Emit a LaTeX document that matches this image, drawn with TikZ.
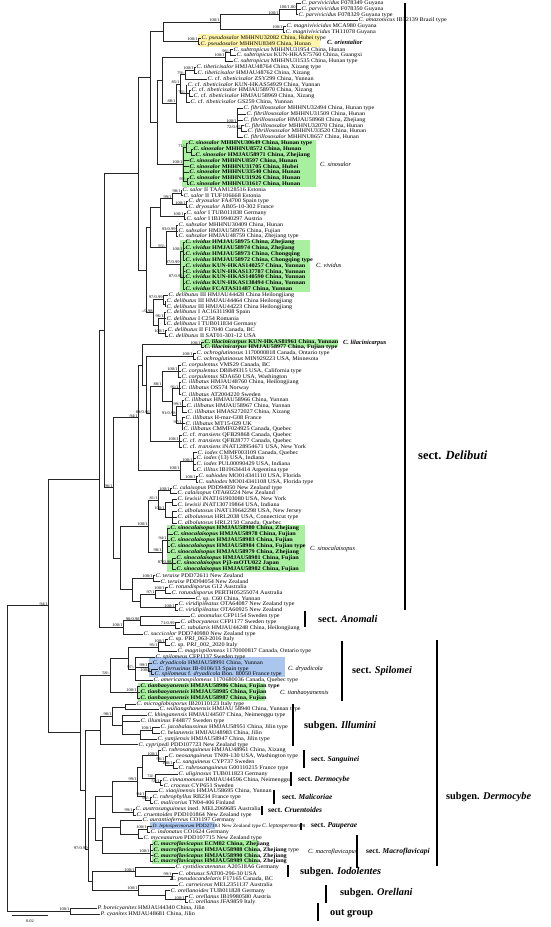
\documentclass[tikz,border=0pt]{standalone}
\usepackage{fontspec}
\setmainfont{Liberation Serif}
\newfontfamily\lfam[FakeStretch=1.1]{Liberation Serif}
\usetikzlibrary{calc}
\definecolor{hlg}{RGB}{168,240,160}
\definecolor{hly}{RGB}{255,244,170}
\definecolor{hlb}{RGB}{170,198,238}
\newcommand\lff{\lfam\fontsize{5.6}{6}\selectfont}
\newcommand\supf{\lfam\fontsize{4.1}{4.5}\selectfont}
\newcommand\I[1]{\textit{#1}}
\newcommand\B[1]{\textbf{#1}}
\tikzset{
  lf/.style={anchor=west,inner xsep=0.5pt,inner ysep=0pt,font=\lff},
  br/.style={line width=0.45pt,draw=black!85},
  supl/.style={anchor=south east,inner sep=0.2pt,font=\supf},
  cll/.style={anchor=west,inner sep=0pt,font=\fontsize{6.3}{7}\selectfont},
  secl/.style={anchor=west,inner sep=0pt,font=\fontsize{7.5}{9}\selectfont\bfseries},
  bigl/.style={anchor=west,inner sep=0pt,font=\fontsize{10.3}{12}\selectfont\bfseries},
  bar/.style={line width=1.3pt}
}
\newcommand\lf[3]{\node[lf] (L#1) at (#2,{3+(#1-1)*5.84}) {#3};}
\newcommand\ndm[5]{\path let \p1=($(#3)!.5!(#4)$) in coordinate (#1) at (#2pt,\y1);
  \foreach \c in {#5}{\draw[br] (#1) |- (\c);}}
\newcommand\nd[4]{\ndm{#1}{#2}{#3}{#4}{#3,#4}}
\newcommand\sv[2]{\node[supl] at (#1) {#2};}
\begin{document}
\begin{tikzpicture}[x=1pt,y=-1pt]
\useasboundingbox (0,0) rectangle (550,927);
% highlight boxes
\fill[hly] (198,34) rectangle (320,47);
\fill[hlg] (182,140) rectangle (316,187);
\fill[hlg] (180,240) rectangle (310,292);
\fill[hlg] (201,339) rectangle (338,347);
\fill[hlg] (167,525) rectangle (305,572);
\fill[hlb] (149,657) rectangle (285,677);
\fill[hlg] (138,683) rectangle (265,701);
\fill[hlb] (150,822) rectangle (215,829);
\fill[hlg] (152,840) rectangle (258,864);
% leaves
\lf{1}{301}{\I{C. parvivicidus} F078349 Guyana}
\lf{2}{301}{\I{C. parvivicidus} F078350 Guyana}
\lf{3}{298}{\I{C. parvivicidus} F078329 Guyana type}
\lf{4}{358}{\I{C. amazonicus} IB12139 Brazil type}
\lf{5}{286}{\I{C. magnivivicidus} MCA980 Guyana}
\lf{6}{285}{\I{C. magnivivicidus} TH11078 Guyana}
\lf{7}{201}{\I{C. pseudosalor} MHHNU32082 China, Hubei type}
\lf{8}{200}{\I{C. pseudosalor} MHHNU8349 China, Hunan}
\lf{9}{233}{\I{C. subtropicus} MHHNU31954 China, Hunan}
\lf{10}{236}{\I{C. subtropicus} KUN-HKAS75760 China, Guangxi}
\lf{11}{233}{\I{C. subtropicus} MHHNU31535 China, Hunan type}
\lf{12}{196}{\I{C. tibeticisalor} HMJAU48764 China, Xizang type}
\lf{13}{197}{\I{C. tibeticisalor} HMJAU48762 China, Xizang}
\lf{14}{207}{\I{C.} cf. \I{tibeticisalor} ZSY299 China, Yunnan}
\lf{15}{187}{\I{C.} cf. \I{tibeticisalor} KUN-HKAS54929 China, Yunnan}
\lf{16}{191}{\I{C.} cf. \I{tibeticisalor} HMJAU58970 China, Xizang}
\lf{17}{193}{\I{C.} cf. \I{tibeticisalor} HMJAU58969 China, Xizang}
\lf{18}{190}{\I{C.} cf. \I{tibeticisalor} GS259 China, Yunnan}
\lf{19}{243}{\I{C. fibrillososalor} MHHNU32494 China, Hunan type}
\lf{20}{246}{\I{C. fibrillososalor} MHHNU31509 China, Hunan}
\lf{21}{243}{\I{C. fibrillososalor} HMJAU58968 China, Zhejiang}
\lf{22}{244}{\I{C. fibrillososalor} MHHNU32070 China, Hunan}
\lf{23}{247}{\I{C. fibrillososalor} MHHNU33520 China, Hunan}
\lf{24}{243}{\I{C. fibrillososalor} MHHNU8657 China, Hunan}
\lf{25}{188}{\B{\I{C. sinosalor} MHHNU30649 China, Hunan type}}
\lf{26}{193}{\B{\I{C. sinosalor} MHHNU8572 China, Hunan}}
\lf{27}{195}{\B{\I{C. sinosalor} HMJAU58971 China, Zhejiang}}
\lf{28}{189}{\B{\I{C. sinosalor} MHHNU8597 China, Hunan}}
\lf{29}{189}{\B{\I{C. sinosalor} MHHNU31705 China, Hubei}}
\lf{30}{189}{\B{\I{C. sinosalor} MHHNU33540 China, Hunan}}
\lf{31}{189}{\B{\I{C. sinosalor} MHHNU31926 China, Hunan}}
\lf{32}{189}{\B{\I{C. sinosalor} MHHNU31617 China, Hunan}}
\lf{33}{182}{\I{C. salor} II TAAM128516 Estonia}
\lf{34}{183}{\I{C. salor} II TUF106668 Estonia}
\lf{35}{188}{\I{C. dryosalor} FA4700 Spain type}
\lf{36}{188}{\I{C. dryosalor} AB05-10-302 France}
\lf{37}{186}{\I{C. salor} I TUB011838 Germany}
\lf{38}{186}{\I{C. salor} I IB19940297 Austria}
\lf{39}{178}{\I{C. subsalor} MHHNU30409 China, Hunan}
\lf{40}{178}{\I{C. subsalor} HMJAU58976 China, Fujian}
\lf{41}{178}{\I{C. subsalor} HMJAU48759 China, Zhejiang type}
\lf{42}{185}{\B{\I{C. vividus} HMJAU58975 China, Zhejiang}}
\lf{43}{185}{\B{\I{C. vividus} HMJAU58974 China, Zhejiang}}
\lf{44}{185}{\B{\I{C. vividus} HMJAU58973 China, Chongqing}}
\lf{45}{185}{\B{\I{C. vividus} HMJAU58972 China, Chongqing type}}
\lf{46}{185}{\B{\I{C. vividus} KUN-HKAS140257 China, Yunnan}}
\lf{47}{185}{\B{\I{C. vividus} KUN-HKAS137787 China, Yunnan}}
\lf{48}{185}{\B{\I{C. vividus} KUN-HKAS140590 China, Yunnan}}
\lf{49}{185}{\B{\I{C. vividus} KUN-HKAS138494 China, Yunnan}}
\lf{50}{185}{\B{\I{C. vividus} FCATAS11487 China, Yunnan}}
\lf{51}{168}{\I{C. delibutus} III HMJAU44428 China Heilongjiang}
\lf{52}{166}{\I{C. delibutus} III HMJAU44464 China Heilongjiang}
\lf{53}{166}{\I{C. delibutus} III HMJAU44223 China Heilongjiang}
\lf{54}{166}{\I{C. delibutus} I AC16311908 Spain}
\lf{55}{166}{\I{C. delibutus} I C254 Romania}
\lf{56}{166}{\I{C. delibutus} I TUB011834 Germany}
\lf{57}{167}{\I{C. delibutus} II F17040 Canada, BC}
\lf{58}{168}{\I{C. delibutus} II SAT01-301-12 USA}
\lf{59}{204}{\B{\I{C. lilacinicarpus} KUN-HKAS81961 China, Yunnan}}
\lf{60}{204}{\B{\I{C. lilacinicarpus} HMJAU58977 China, Fujian type}}
\lf{61}{196}{\I{C. ochroglutinosus} 1170000818 Canada, Ontario type}
\lf{62}{196}{\I{C. ochroglutinosus} MIN929223 USA, Minnesota}
\lf{63}{181}{\I{C. corpulentus} VMS29 Canada, BC}
\lf{64}{181}{\I{C. corpulentus} DBB49315 USA, California type}
\lf{65}{181}{\I{C. corpulentus} SDA650 USA, Washington}
\lf{66}{181}{\I{C. illibatus} HMJAU48760 China, Heilongjiang}
\lf{67}{181}{\I{C. illibatus} OS574 Norway}
\lf{68}{181}{\I{C. illibatus} AT2004220 Sweden}
\lf{69}{184}{\I{C. illibatus} HMJAU58966 China, Yunnan}
\lf{70}{186}{\I{C. illibatus} HMJAU58967 China, Yunnan}
\lf{71}{187}{\I{C. illibatus} HMAS272027 China, Xizang}
\lf{72}{185}{\I{C. illibatus} H-mar-G08 France}
\lf{73}{185}{\I{C. illibatus} MT15-029 UK}
\lf{74}{183}{\I{C. illibatus} CMMF024925 Canada, Quebec}
\lf{75}{182}{\I{C.} cf. \I{transiens} QFB29868 Canada, Quebec}
\lf{76}{182}{\I{C.} cf. \I{transiens} QFB28777 Canada, Quebec}
\lf{77}{182}{\I{C.} cf. \I{transiens} iNAT128954671 USA, New York}
\lf{78}{197}{\I{C. iodes} CMMF003109 Canada, Quebec}
\lf{79}{196}{\I{C. iodes} (13) USA, Indiana}
\lf{80}{196}{\I{C. iodes} PUL00090429 USA, Indiana}
\lf{81}{196}{\I{C. illitus} IB19634414 Argentina type}
\lf{82}{198}{\I{C. subiodes} MO014341110 USA, Florida}
\lf{83}{198}{\I{C. subiodes} MO014341108 USA, Florida type}
\lf{84}{172}{\I{C. calaisopus} PDD94050 New Zealand type}
\lf{85}{177}{\I{C. calaisopus} OTA60224 New Zealand}
\lf{86}{177}{\I{C. lewisii} iNAT161903080 USA, New York}
\lf{87}{177}{\I{C. lewisii} iNAT130719864 USA, Indiana}
\lf{88}{177}{\I{C. albolutosus} iNAT139642298 USA, New Jersey}
\lf{89}{177}{\I{C. albolutosus} HRL2038 USA, Connecticut type}
\lf{90}{177}{\I{C. albolutosus} HRL2150 Canada, Quebec}
\lf{91}{170}{\B{\I{C. sinocalaisopus} HMJAU58980 China, Zhejiang}}
\lf{92}{173}{\B{\I{C. sinocalaisopus} HMJAU58978 China, Fujian}}
\lf{93}{170}{\B{\I{C. sinocalaisopus} HMJAU58983 China, Fujian}}
\lf{94}{170}{\B{\I{C. sinocalaisopus} HMJAU58984 China, Fujian type}}
\lf{95}{170}{\B{\I{C. sinocalaisopus} HMJAU58979 China, Zhejiang}}
\lf{96}{176}{\B{\I{C. sinocalaisopus} HMJAU58981 China, Fujian}}
\lf{97}{176}{\B{\I{C. sinocalaisopus} Pj3-mOTU022 Japan}}
\lf{98}{176}{\B{\I{C. sinocalaisopus} HMJAU58982 China, Fujian}}
\lf{99}{155}{\I{C. teraise} PDD72611 New Zealand}
\lf{100}{160}{\I{C. teraise} PDD94054 New Zealand}
\lf{101}{168}{\I{C. rotundisporus} G12 Australia}
\lf{102}{171}{\I{C. rotundisporus} PERTH05255074 Australia}
\lf{103}{195}{\I{C.} sp. C60 China, Yunnan}
\lf{104}{178}{\I{C. viridipileatus} OTA64087 New Zealand type}
\lf{105}{178}{\I{C. viridipileatus} OTA60925 New Zealand}
\lf{106}{190}{\I{C. anomalus} CFP1154 Sweden type}
\lf{107}{180}{\I{C. albocyaneus} CFP1177 Sweden type}
\lf{108}{180}{\I{C. tabularis} HMJAU44248 China, Heilongjiang}
\lf{109}{143}{\I{C. succicolor} PDD740980 New Zealand type}
\lf{110}{168}{\I{C.} sp. PRJ\_063-2016 Italy}
\lf{111}{170}{\I{C.} sp. PRJ\_002\_2020 Italy}
\lf{112}{177}{\I{C. magnispilomeus} 1170000817 Canada, Ontario type}
\lf{113}{155}{\I{C. spilomeus} CFP1137 Sweden type}
\lf{114}{152}{\I{C. dryadicola} HMJAU58991 China, Yunnan}
\lf{115}{158}{\I{C. ferrusinus} IB-0106/13 Spain type}
\lf{116}{154}{\I{C. spilomeus} f. \I{dryadicola} Bon. 80050 France type}
\lf{117}{153}{\I{C. americanospilomeus} 1170680036 Canada, Quebec type}
\lf{118}{140}{\B{\I{C. tianbaoyanensis} HMJAU58986 China, Fujian type}}
\lf{119}{140}{\B{\I{C. tianbaoyanensis} HMJAU58985 China, Fujian}}
\lf{120}{140}{\B{\I{C. tianbaoyanensis} HMJAU58987 China, Fujian}}
\lf{121}{136}{\I{C. microglobisporus} IB20110123 Italy type}
\lf{122}{159}{\I{C. wuliangshanensis} HMJAU 58940 China, Yunnan type}
\lf{123}{147}{\I{C. khinganensis} HMJAU44507 China, Neimenggu type}
\lf{124}{140}{\I{C. illuminus} F44877 Sweden type}
\lf{125}{160}{\I{C. jacobalaussinus} HMJAU58951 China, Jilin type}
\lf{126}{160}{\I{C. helanensis} HMJAU48983 China, Jilin}
\lf{127}{157}{\I{C. yanjiensis} HMJAU58947 China, Jilin type}
\lf{128}{138}{\I{C. cypripedi} PDD107723 New Zealand type}
\lf{129}{161}{\I{C. rubrosanguineus} HMJAU48961 China, Xizang}
\lf{130}{168}{\I{C. neosanguineus} TN09-130 USA, Washington type}
\lf{131}{175}{\I{C. sanguineus} CYP737 Sweden}
\lf{132}{178}{\I{C. rubrosanguineus} G00110215 France type}
\lf{133}{178}{\I{C. uliginosus} TUB011823 Germany}
\lf{134}{162}{\I{C. cinnamomeus} HMJAU44596 China, Neimenggu}
\lf{135}{163}{\I{C. croceus} CYP651 Sweden}
\lf{136}{158}{\I{C. xiaojinensis} HMJAU58695 China, Yunnan}
\lf{137}{152}{\I{C. rubrophyllus} RB234 France type}
\lf{138}{153}{\I{C. malicorius} TN04-406 Finland}
\lf{139}{135}{\I{C. austrosanguineus} ined. MEL2069685 Australia}
\lf{140}{136}{\I{C. cruentoides} PDD101864 New Zealand type}
\lf{141}{142}{\I{C. aurantioferreus} CO1197 Germany}
\lf{142}{152}{{\fontsize{4.9}{5}\selectfont\I{D. leptospermorum} PDD27183 New Zealand type}}
\lf{143}{150}{\I{C. indonatus} CO1624 Germany}
\lf{144}{143}{\I{C. myceanarum} PDD107715 New Zealand type}
\lf{145}{153}{\B{\I{C. macroflavicapus} ECM82 China, Zhejiang}}
\lf{146}{153}{\B{\I{C. macroflavicapus} HMJAU58988 China, Zhejiang} type}
\lf{147}{153}{\B{\I{C. macroflavicapus} HMJAU58990 China, Zhejiang}}
\lf{148}{153}{\B{\I{C. macroflavicapus} HMJAU58989 China, Zhejiang}}
\lf{149}{175}{\I{C. cystidiocatenatus} A20518A6 Germany}
\lf{150}{178}{\I{C. obtusus} SAT00-296-30 USA}
\lf{151}{170}{\I{C. pseudocandelaris} F17165 Canada, BC}
\lf{152}{178}{\I{C. carneiceus} MEL2351137 Australia}
\lf{153}{170}{\I{C. orellanoides} TUB011828 Germany}
\lf{154}{188}{\I{C. orellanus} IB19980580 Austria}
\lf{155}{188}{\I{C. orellanus} JFA9859 Italy}
\lf{156}{97}{\I{P. boreicyanites} HMJAU44340 China, Jilin}
\lf{157}{100}{\I{P. cyanites} HMJAU48681 China, Jilin}
% ---- internal nodes: Delibuti
\ndm{a1}{296}{L1}{L3}{L1,L2,L3}
\nd{a2}{279}{a1}{L4}
\nd{a3}{283}{L5}{L6}
\nd{a4}{220}{a2}{a3}
\nd{p1}{198}{L7}{L8}
\nd{b1}{163}{a4}{p1}
\nd{s1}{230}{L9}{L10}
\nd{s2}{225}{s1}{L11}
\nd{t1}{194}{L12}{L13}
\nd{t5}{185}{t1}{L14}
\nd{t4}{189}{L16}{L17}
\ndm{t6}{186}{L15}{L18}{L15,t4,L18}
\nd{t2}{180}{t5}{t6}
\nd{f2}{241}{L22}{L23}
\ndm{f1}{237}{L19}{L24}{L19,L20,L21,f2,L24}
\nd{c1}{176}{t2}{f1}
\nd{c2}{162}{s2}{c1}
\nd{sn2}{191}{L26}{L27}
\nd{sn1}{186}{L25}{sn2}
\nd{sn3}{187}{L31}{L32}
\ndm{sn}{183}{sn1}{sn3}{sn1,L28,L29,L30,sn3}
\nd{g1}{157}{c2}{sn}
\nd{b2}{150}{b1}{g1}
\nd{sa1}{181}{L33}{L34}
\nd{dr}{186}{L35}{L36}
\nd{sa2}{172}{sa1}{dr}
\nd{sI}{184}{L37}{L38}
\nd{sa4}{160}{sa2}{sI}
\ndm{sb}{176}{L39}{L41}{L39,L40,L41}
\ndm{vv1}{183}{L42}{L45}{L42,L43,L44,L45}
\ndm{vv2}{183}{L46}{L50}{L46,L47,L48,L49,L50}
\nd{vv}{180}{vv1}{vv2}
\nd{sv}{166}{sb}{vv}
\nd{de3b}{165}{L52}{L53}
\nd{de3}{163}{L51}{de3b}
\ndm{de1}{164}{L54}{L56}{L54,L55,L56}
\nd{de2}{165}{L57}{L58}
\nd{de12}{158}{de1}{de2}
\nd{de}{153}{de3}{de12}
\nd{k1}{150}{sa4}{sv}
\nd{k2}{146}{k1}{de}
\nd{k3}{138}{b2}{k2}
\nd{li}{201}{L59}{L60}
\nd{oc}{193}{L61}{L62}
\ndm{co}{178}{L63}{L65}{L63,L64,L65}
\ndm{il1}{179}{L66}{L68}{L66,L67,L68}
\ndm{il2}{182}{L69}{L71}{L69,L70,L71}
\ndm{il3}{182}{L72}{L74}{L72,L73,L74}
\nd{il23}{176}{il2}{il3}
\nd{il}{172}{il1}{il23}
\nd{coil}{162}{co}{il}
\ndm{tr}{179}{L75}{L77}{L75,L76,L77}
\nd{citr}{150}{coil}{tr}
\nd{ocn}{146}{oc}{citr}
\nd{lin}{142}{li}{ocn}
\ndm{io1}{193}{L78}{L81}{L78,L79,L80,L81}
\nd{su}{196}{L82}{L83}
\nd{io}{180}{io1}{su}
\nd{nio}{138}{lin}{io}
\nd{ca}{170}{L84}{L85}
\nd{le}{172}{L86}{L87}
\ndm{alb}{172}{L88}{L90}{L88,L89,L90}
\nd{lwa}{165}{le}{alb}
\nd{cal}{158}{ca}{lwa}
\ndm{sc1}{167}{L91}{L95}{L91,L92,L93,L94,L95}
\ndm{sc2}{172}{L96}{L98}{L96,L97,L98}
\nd{sc}{162}{sc1}{sc2}
\nd{cs}{148}{cal}{sc}
\nd{te}{153}{L99}{L100}
\nd{ro}{165}{L101}{L102}
\nd{ro2}{155}{ro}{L103}
\nd{vi}{175}{L104}{L105}
\nd{k10}{140}{ro2}{vi}
\nd{k9}{132}{te}{k10}
\nd{k7}{120}{cs}{k9}
\nd{k4}{113}{nio}{k7}
\nd{dl}{104}{k3}{k4}
% Anomali
\nd{an2}{175}{L107}{L108}
\nd{an3}{140}{L106}{an2}
\nd{an}{123}{an3}{L109}
% Spilomei
\nd{sp1}{165}{L110}{L111}
\nd{sp2}{158}{sp1}{L112}
\nd{dry2}{151}{L115}{L116}
\nd{dry}{148}{L114}{dry2}
\ndm{spB}{135}{L113}{L117}{L113,dry,L117}
\nd{spA}{128}{sp2}{spB}
\ndm{ti}{137}{L118}{L120}{L118,L119,L120}
\nd{spi}{110}{spA}{ti}
% Illumini
\nd{imA}{125}{L121}{L122}
\nd{imjh}{152}{L125}{L126}
\nd{imB}{140}{imjh}{L127}
\ndm{imC}{122}{L123}{imB}{L123,L124,imB}
\nd{ilm}{112}{imA}{imC}
\nd{cyp}{100}{ilm}{L128}
% Dermocybe s.str. sections
\nd{sg1}{173}{L131}{L132}
\nd{sg2}{165}{L130}{sg1}
\nd{sg}{158}{L129}{sg2}
\nd{dm2}{160}{L134}{L135}
\nd{dm}{155}{L133}{dm2}
\nd{sgdm}{142}{sg}{dm}
\nd{ml1}{150}{L137}{L138}
\nd{ml}{145}{L136}{ml1}
\nd{sdm}{137}{sgdm}{ml}
\nd{cr}{133}{L139}{L140}
\nd{d1}{112}{sdm}{cr}
\nd{pa1}{147}{L142}{L143}
\nd{pa2}{138}{pa1}{L144}
\nd{pa3}{120}{L141}{pa2}
\ndm{mf}{150}{L145}{L148}{L145,L146,L147,L148}
\nd{d2}{102}{pa3}{mf}
\nd{dmc}{95}{d1}{d2}
% Iodolentes, Orellani
\nd{ob}{172}{L150}{L151}
\nd{iol}{135}{L149}{ob}
\nd{or3}{185}{L154}{L155}
\nd{or2}{165}{L153}{or3}
\nd{or}{138}{L152}{or2}
\nd{ioor}{92}{iol}{or}
% backbone
\nd{gA}{99}{dl}{an}
\nd{gB3}{88}{dmc}{ioor}
\nd{gB2}{85}{cyp}{gB3}
\nd{gB}{80}{spi}{gB2}
\nd{N0}{48}{gA}{gB}
\nd{P}{70}{L156}{L157}
\nd{root}{7}{N0}{P}
% support values
\sv{a1}{100/1.00}\sv{a2}{100/1}\sv{a3}{100/1}\sv{a4}{100/1}\sv{p1}{100/1}
\sv{s2}{100/1}\sv{s1}{96/-}\sv{t1}{100/1}\sv{t5}{79/-}\sv{t2}{85/1}\sv{t6}{76/-}
\sv{f1}{100/1}\sv{f2}{72/0.95}\sv{c1}{88/1}\sv{sn}{100/1}\sv{sn1}{71/-}\sv{sn3}{95/-}
\sv{sa1}{98/1}\sv{sa2}{99/1}\sv{dr}{100/1}\sv{sI}{100/1}\sv{sb}{93/0.99}\sv{sv}{93/-}
\sv{vv}{97/0.99}\sv{vv1}{100/1}\sv{vv2}{87/0.95}\sv{de3}{97/0.99}\sv{de}{-/0.98}
\sv{de1}{96/1}\sv{de2}{100/1}\sv{li}{100/1}\sv{oc}{100/1}\sv{co}{100/1}\sv{coil}{88/1}
\sv{il1}{91/1}\sv{il2}{99/1}\sv{il3}{97/1}\sv{il23}{91/0.98}\sv{citr}{89/0.96}
\sv{tr}{100/1}\sv{io1}{100/1}\sv{su}{100/1}\sv{io}{100/1}\sv{nio}{94/1}
\sv{ca}{100/1}\sv{lwa}{100/1}\sv{cal}{81/1}\sv{cs}{100/1}\sv{sc1}{94/1}\sv{sc2}{87/0.98}
\sv{sc}{98/1}\sv{te}{100/1}\sv{ro}{100/1}\sv{ro2}{97/1}\sv{vi}{100/1}\sv{k4}{96/1}
\sv{an3}{90/0.98}\sv{an2}{71/0.99}\sv{an}{100/1}\sv{sp1}{100/1}\sv{sp2}{95/1}
\sv{dry}{99/1}\sv{dry2}{100/1}\sv{spB}{97/-}\sv{ti}{100/1}\sv{spi}{58/-}
\sv{ilm}{98/1}\sv{imjh}{100/1}\sv{sg}{100/1}\sv{sg2}{96/1}\sv{sg1}{100/1}
\sv{dm}{74/-}\sv{dm2}{59/1}\sv{ml}{94/1}\sv{ml1}{96/-}\sv{sdm}{99/1}\sv{cr}{99/1}
\sv{pa1}{100/1}\sv{gB3}{97/0.99}\sv{mf}{100/1}\sv{iol}{100/1}\sv{ob}{99/1}
\sv{or}{100/1}\sv{or3}{100/1}\sv{P}{100/1}\sv{N0}{94/1}
% clade labels
\node[cll] (nOri) at (327,42) {\B{\I{C. orientalior}}};
\node[cll] (nSino) at (320,164) {\I{C. sinosalor}};
\node[cll] (nViv) at (316,265) {\I{C. vividus}};
\node[cll] (nLil) at (343,343) {\B{\I{C. lilacinicarpus}}};
\node[cll] (nScal) at (310,549) {\I{C. sinocalaisopus}};
\node[cll] (nDry) at (288,669) {\I{C. dryadicola}};
\node[cll] (nTian) at (280,693) {\I{C. tianbaoyanensis}};
\node[cll,font=\fontsize{5.6}{6}\selectfont] (nLep) at (262,826) {\I{C. leptospermorum}};
\node[cll] (nMac) at (308,852) {\I{C. macroflavicapus}};
% section bars and labels
\draw[bar] (405,3) -- (405,610);
\node[bigl,font=\fontsize{12.5}{14}\selectfont\bfseries] (sDel) at (418,455) {sect. \I{Delibuti}};
\draw[bar] (305,611) -- (305,627);
\node[bigl] (sAno) at (318,619) {sect. \I{Anomali}};
\draw[bar] (342,641) -- (342,701);
\node[bigl] (sSpi) at (352,671) {sect. \I{Spilomei}};
\draw[bar] (293,704) -- (293,746);
\node[bigl] (sIll) at (304,726) {subgen. \I{Illumini}};
\draw[bar] (304,750) -- (304,768);
\node[secl] (sSan) at (311,760) {sect. \I{Sanguinei}};
\draw[bar] (291,772) -- (291,786);
\node[secl] (sDer) at (298,780) {sect. \I{Dermocybe}};
\draw[bar] (274,790) -- (274,804);
\node[secl] (sMal) at (282,797) {sect. \I{Malicoriae}};
\draw[bar] (262,806) -- (262,815);
\node[secl] (sCru) at (268,810) {sect. \I{Cruentoides}};
\draw[bar] (301,823) -- (301,830);
\node[secl] (sPau) at (311,826) {sect. \I{Pauperae}};
\draw[bar] (357,835) -- (357,868);
\node[secl] (sMac) at (366,852) {sect. \I{Macroflavicapi}};
\draw[bar] (288,865) -- (288,877);
\node[bigl] (sIod) at (300,872) {subgen. \I{Iodolentes}};
\draw[bar] (326,885) -- (326,903);
\node[bigl] (sOre) at (340,893) {subgen. \I{Orellani}};
\draw[bar] (318,903) -- (318,921);
\node[bigl] (sOut) at (330,914) {out group};
\draw[bar] (437,640) -- (437,866);
\node[bigl] (sDerm) at (446,797) {subgen. \I{Dermocybe}};
% scale bar
\coordinate (scA) at (12,915);
\coordinate (scB) at (48,915);
\draw[br] (scA) -- (scB);
\node[font=\supf,inner sep=0pt] (scL) at (30,921) {0.02};
\end{tikzpicture}
\end{document}
